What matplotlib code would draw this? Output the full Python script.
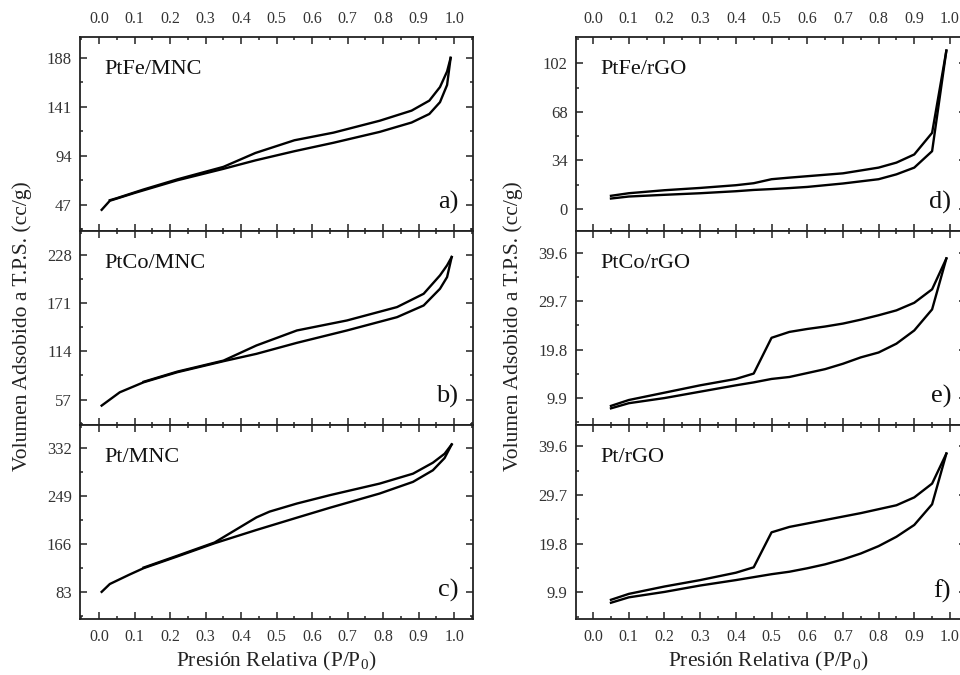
import matplotlib
matplotlib.use('Agg')
import matplotlib.pyplot as plt
from matplotlib.ticker import MultipleLocator, FormatStrFormatter

plt.rcParams['font.family'] = ['Liberation Serif', 'DejaVu Serif']
plt.rcParams['mathtext.default'] = 'regular'

# PtFe/MNC
pfe_mnc_ads_x = [0.007, 0.03, 0.1, 0.22, 0.35, 0.44, 0.55, 0.66, 0.79, 0.88, 0.93, 0.96, 0.98, 0.99]
pfe_mnc_ads_y = [42.3, 51, 58.5, 70.6, 81.6, 89.7, 98.5, 106.6, 117, 126, 134.2, 145.5, 162, 188]
pfe_mnc_des_x = [0.99, 0.98, 0.96, 0.93, 0.88, 0.79, 0.66, 0.55, 0.44, 0.35, 0.22, 0.125, 0.05, 0.03]
pfe_mnc_des_y = [188, 175, 160, 147, 137.4, 127.7, 116.3, 109, 96.8, 83.5, 71.5, 61.8, 53.5, 51.5]

# PtCo/MNC
pco_mnc_ads_x = [0.007, 0.058, 0.125, 0.22, 0.35, 0.443, 0.557, 0.698, 0.839, 0.914, 0.96, 0.98, 0.993]
pco_mnc_ads_y = [49.9, 65.6, 77.4, 89.3, 102.3, 111, 124, 138.6, 154.3, 168.1, 187.8, 201.6, 225.3]
pco_mnc_des_x = [0.993, 0.98, 0.96, 0.914, 0.839, 0.698, 0.557, 0.443, 0.35, 0.22, 0.125]
pco_mnc_des_y = [225.3, 215.5, 203.6, 181.9, 166.2, 150.4, 138.6, 120.9, 103, 90, 78]

# Pt/MNC
pt_mnc_ads_x = [0.007, 0.03, 0.085, 0.125, 0.22, 0.325, 0.443, 0.557, 0.65, 0.79, 0.884, 0.94, 0.973, 0.993]
pt_mnc_ads_y = [83, 96.6, 112.8, 124, 144.3, 167.2, 190.2, 211.5, 228.7, 253.3, 273.5, 293.6, 314.8, 338.4]
pt_mnc_des_x = [0.993, 0.973, 0.94, 0.884, 0.79, 0.65, 0.557, 0.48, 0.443, 0.325, 0.22, 0.125]
pt_mnc_des_y = [338.4, 322.2, 306.7, 287.7, 270.5, 250.5, 236, 222, 212, 168.5, 145.5, 125]

# PtFe/rGO
pfe_rgo_x = [0.05, 0.1, 0.2, 0.3, 0.4, 0.45, 0.5, 0.55, 0.6, 0.7, 0.8, 0.85, 0.9, 0.95, 0.99]
pfe_rgo_ads_y = [7.4, 8.8, 10.0, 11.1, 12.5, 13.4, 14.0, 14.7, 15.5, 17.9, 20.9, 24.3, 29.0, 40.5, 110.8]
pfe_rgo_des_y = [9.3, 11.1, 13.2, 14.8, 16.7, 18.1, 20.9, 22.0, 23.0, 25.0, 29.0, 32.5, 38.2, 53.3, 110.8]

# PtCo/rGO and Pt/rGO
rgo_x = [0.05, 0.1, 0.2, 0.3, 0.4, 0.45, 0.5, 0.55, 0.6, 0.65, 0.7, 0.75, 0.8, 0.85, 0.9, 0.95, 0.99]
pco_rgo_ads_y = [7.8, 8.85, 9.9, 11.2, 12.5, 13.1, 13.8, 14.2, 15.0, 15.8, 16.9, 18.2, 19.2, 21.0, 23.7, 28.0, 38.4]
pco_rgo_des_y = [8.3, 9.5, 11.0, 12.5, 13.8, 14.9, 22.2, 23.4, 24.0, 24.5, 25.1, 25.9, 26.8, 27.8, 29.35, 32.1, 38.4]
pt_rgo_ads_y = [7.8, 8.9, 10.0, 11.3, 12.4, 13.0, 13.6, 14.1, 14.8, 15.6, 16.6, 17.8, 19.3, 21.2, 23.6, 27.8, 38.1]
pt_rgo_des_y = [8.4, 9.6, 11.1, 12.4, 13.9, 15.0, 22.1, 23.2, 23.9, 24.6, 25.3, 26.0, 26.8, 27.6, 29.2, 32.0, 38.1]

W, H = 960, 675
fig = plt.figure(figsize=(W / 100, H / 100), dpi=100)

rows = [37, 231, 425, 619]  # pixel edges of the three rows


def make_ax(left_px, r):
    top, bot = rows[r], rows[r + 1]
    return fig.add_axes([left_px / W, 1 - bot / H, 393 / W, (bot - top) / H])


panels = [
    # left column
    (80, 0, 'PtFe/MNC', 'a)', (pfe_mnc_ads_x, pfe_mnc_ads_y), (pfe_mnc_des_x, pfe_mnc_des_y), (22, 208), 47, '%d', (-0.054, 1.053)),
    (80, 1, 'PtCo/MNC', 'b)', (pco_mnc_ads_x, pco_mnc_ads_y), (pco_mnc_des_x, pco_mnc_des_y), (27, 256), 57, '%d', (-0.054, 1.053)),
    (80, 2, 'Pt/MNC', 'c)', (pt_mnc_ads_x, pt_mnc_ads_y), (pt_mnc_des_x, pt_mnc_des_y), (36, 372), 83, '%d', (-0.054, 1.053)),
    # right column (cut off at the right edge)
    (576, 0, 'PtFe/rGO', 'd)', (pfe_rgo_x, pfe_rgo_ads_y), (pfe_rgo_x, pfe_rgo_des_y), (-15.3, 120.3), 34, '%d', (-0.048, 1.045)),
    (576, 1, 'PtCo/rGO', 'e)', (rgo_x, pco_rgo_ads_y), (rgo_x, pco_rgo_des_y), (4.4, 44.0), 9.9, '%.1f', (-0.048, 1.045)),
    (576, 2, 'Pt/rGO', 'f)', (rgo_x, pt_rgo_ads_y), (rgo_x, pt_rgo_des_y), (4.5, 43.9), 9.9, '%.1f', (-0.048, 1.045)),
]

for left, r, name, letter, ads, des, ylim, step, fmt, xlim in panels:
    ax = make_ax(left, r) if left == 80 else fig.add_axes(
        [left / W, 1 - rows[r + 1] / H, 390 / W, (rows[r + 1] - rows[r]) / H])
    ax.plot(ads[0], ads[1], color='black', lw=1.7, solid_joinstyle='round')
    ax.plot(des[0], des[1], color='black', lw=1.7, solid_joinstyle='round')
    ax.set_xlim(*xlim)
    ax.set_ylim(*ylim)
    ax.xaxis.set_major_locator(MultipleLocator(0.1))
    ax.xaxis.set_minor_locator(MultipleLocator(0.05))
    ax.xaxis.set_major_formatter(FormatStrFormatter('%.1f'))
    ax.yaxis.set_major_locator(MultipleLocator(step))
    ax.yaxis.set_minor_locator(MultipleLocator(step / 2))
    ax.yaxis.set_major_formatter(FormatStrFormatter(fmt))
    ax.tick_params(which='both', direction='in', top=True, right=True,
                   width=1.1, colors='#222222', labelcolor='#333333')
    ax.tick_params(which='major', length=5)
    ax.tick_params(which='minor', length=2.5)
    ax.tick_params(axis='x', pad=7, labelsize=11.5)
    ax.tick_params(axis='y', pad=6, labelsize=12)
    if r == 0:
        ax.tick_params(axis='x', labeltop=True, labelbottom=False)
    elif r == 1:
        ax.tick_params(axis='x', labeltop=False, labelbottom=False)
    for sp in ax.spines.values():
        sp.set_linewidth(1.3)
        sp.set_color('#222222')
    ax.text(0.062, 0.83, name, transform=ax.transAxes, fontsize=16,
            ha='left', va='center', color='#111111')
    ax.text(0.962, 0.145, letter, transform=ax.transAxes, fontsize=19,
            ha='right', va='center', color='#111111')

for cx in (22, 513):
    fig.text(cx / W, 1 - 326 / H, 'Volumen Adsobido a T.P.S. (cc/g)', rotation=90,
             ha='center', va='center', fontsize=15.5, color='#222222')
for cx in (276, 768):
    fig.text(cx / W, 1 - 661 / H, 'Presión Relativa (P/P$_0$)',
             ha='center', va='center', fontsize=15.5, color='#222222')

fig.savefig('out.png', dpi=100)
